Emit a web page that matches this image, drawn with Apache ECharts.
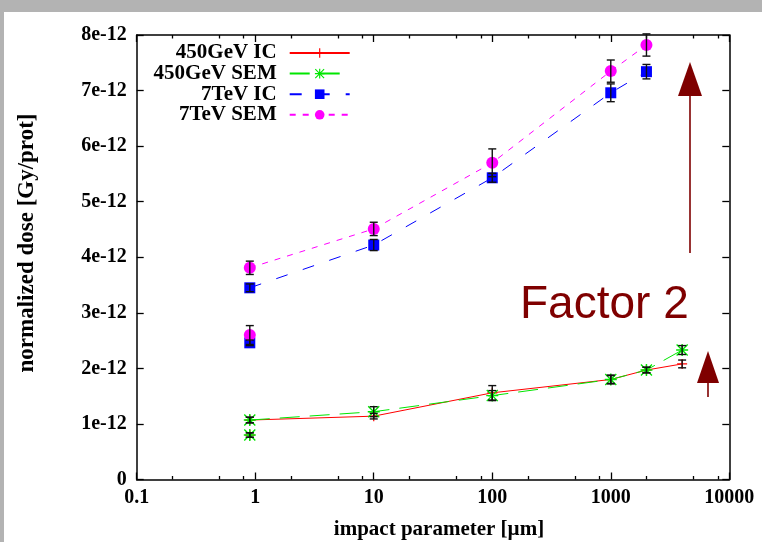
<!DOCTYPE html>
<html><head><meta charset="utf-8">
<script src="https://cdn.jsdelivr.net/npm/echarts@6/dist/echarts.min.js"></script>
<style>html,body{margin:0;padding:0;background:#fff}#c{width:762px;height:542px}</style>
</head><body><div id="c"></div>
<script>
// values in units of 1e-12 Gy/prot
const x450 = [0.9, 0.9, 10, 100, 1000, 2000, 4000];
const ic450 = [0.80, 1.07, 1.14, 1.56, 1.80, 1.97, 2.08];
const ic450Err = [0.04, 0.05, 0.05, 0.13, 0.07, 0.05, 0.07];
const sem450 = [0.80, 1.07, 1.22, 1.51, 1.80, 1.97, 2.33];
const sem450Err = [0.04, 0.05, 0.09, 0.09, 0.08, 0.05, 0.08];
const x7 = [0.9, 0.9, 10, 100, 1000, 2000];
const ic7 = [2.46, 3.45, 4.22, 5.43, 6.96, 7.34];
const ic7Err = [0.05, 0.07, 0.10, 0.08, 0.16, 0.13];
const sem7 = [2.60, 3.81, 4.51, 5.70, 7.35, 7.82];
const sem7Err = [0.17, 0.12, 0.12, 0.25, 0.20, 0.20];
const seriesNames = ['450GeV IC', '450GeV SEM', '7TeV IC', '7TeV SEM'];
const xMajorTicks = [0.1, 1, 10, 100, 1000, 10000];
const xMinorTicks = [0.2, 0.5, 0.8, 2, 5, 8, 20, 50, 80, 200, 500, 800, 2000, 5000, 8000];
const yTicks = [0, 1, 2, 3, 4, 5, 6, 7, 8];
const yUnitLabel = 'e-12';

const FONT = 'Liberation Serif';
const DARKRED = '#7f0000';

// first point at 0.9 is a separate measurement: break the line after it
function lineData(xs, ys) {
  const out = [];
  xs.forEach((x, i) => { out.push([x, ys[i]]); if (i === 0) out.push([x, '-']); });
  return out;
}
function errSeries(xs, ys, es) {
  return {
    type: 'custom', silent: true, z: 10, clip: false,
    data: xs.map((x, i) => [x, ys[i], es[i]]),
    renderItem: function (params, api) {
      const x = api.value(0), y = api.value(1), e = api.value(2);
      const t = api.coord([x, y + e]), b = api.coord([x, y - e]);
      const w = 4, st = { stroke: '#111', lineWidth: 1.4 };
      return { type: 'group', children: [
        { type: 'line', shape: { x1: t[0], y1: t[1], x2: b[0], y2: b[1] }, style: st },
        { type: 'line', shape: { x1: t[0] - w, y1: t[1], x2: t[0] + w, y2: t[1] }, style: st },
        { type: 'line', shape: { x1: b[0] - w, y1: b[1], x2: b[0] + w, y2: b[1] }, style: st }
      ]};
    }
  };
}
const PLUS = 'path://M0,4.4H10V5.6H0Z M4.4,0H5.6V10H4.4Z';
const STAR = 'path://M0,4.4H10V5.6H0Z M4.4,0H5.6V10H4.4Z M0.8,0L10,9.2L9.2,10L0,0.8Z M9.2,0L10,0.8L0.8,10L0,9.2Z';

const labelStyle = { fontFamily: FONT, fontWeight: 'bold', fontSize: 20, color: '#000' };
const axisLine = { show: true, lineStyle: { color: '#000', width: 1.5 } };

const chart = echarts.init(document.getElementById('c'), null, { renderer: 'canvas' });
const option = {
  backgroundColor: '#fff',
  animation: false,
  grid: { left: 136.7, right: 32.7, top: 35, bottom: 62.5, containLabel: false },
  legend: {
    orient: 'vertical', align: 'right', right: 411.3, top: 42.5, padding: 0,
    itemWidth: 60, itemHeight: 12, itemGap: -0.4,
    data: seriesNames,
    textStyle: Object.assign({}, labelStyle, { fontSize: 21, lineHeight: 20, padding: [0, 8, 0, 0] })
  },
  xAxis: [
    { type: 'log', logBase: 10, min: 0.1, max: 10000, position: 'bottom',
      axisLine: axisLine, splitLine: { show: false },
      axisTick: { inside: true, length: 7, customValues: xMajorTicks, lineStyle: { color: '#000', width: 1.3 } },
      axisLabel: Object.assign({ margin: 8, customValues: xMajorTicks, formatter: v => String(v) }, labelStyle) },
    { type: 'log', logBase: 10, min: 0.1, max: 10000, position: 'bottom', gridIndex: 0,
      axisLine: { show: false }, splitLine: { show: false }, axisLabel: { show: false },
      axisTick: { inside: true, length: 3.5, customValues: xMinorTicks, lineStyle: { color: '#000', width: 1.3 } } },
    { type: 'log', logBase: 10, min: 0.1, max: 10000, position: 'top',
      axisLine: axisLine, splitLine: { show: false }, axisLabel: { show: false },
      axisTick: { inside: true, length: 7, customValues: xMajorTicks, lineStyle: { color: '#000', width: 1.3 } } },
    { type: 'log', logBase: 10, min: 0.1, max: 10000, position: 'top',
      axisLine: { show: false }, splitLine: { show: false }, axisLabel: { show: false },
      axisTick: { inside: true, length: 3.5, customValues: xMinorTicks, lineStyle: { color: '#000', width: 1.3 } } }
  ],
  yAxis: [
    { type: 'value', min: 0, max: 8, interval: 1, position: 'left',
      axisLine: axisLine, splitLine: { show: false },
      axisTick: { inside: true, length: 7, lineStyle: { color: '#000', width: 1.3 } },
      axisLabel: Object.assign({ margin: 10, formatter: v => v === 0 ? '0' : v + yUnitLabel }, labelStyle) },
    { type: 'value', min: 0, max: 8, interval: 1, position: 'right',
      axisLine: axisLine, splitLine: { show: false }, axisLabel: { show: false },
      axisTick: { inside: true, length: 7, lineStyle: { color: '#000', width: 1.3 } } }
  ],
  series: [
    { name: seriesNames[0], type: 'line', data: lineData(x450, ic450), connectNulls: false,
      color: '#ff0000', lineStyle: { color: '#ff0000', width: 1 }, symbol: PLUS, symbolSize: 10,
      itemStyle: { color: '#ff0000' }, z: 3 },
    { name: seriesNames[1], type: 'line', data: lineData(x450, sem450), connectNulls: false,
      color: '#00e600', lineStyle: { color: '#00e600', width: 1, type: [20, 10] }, symbol: STAR, symbolSize: 12,
      itemStyle: { color: '#00e600' }, z: 4 },
    { name: seriesNames[2], type: 'line', data: lineData(x7, ic7), connectNulls: false,
      color: '#0000ff', lineStyle: { color: '#0000ff', width: 1, type: [12, 16] }, symbol: 'rect', symbolSize: 11,
      itemStyle: { color: '#0000ff' }, z: 3 },
    { name: seriesNames[3], type: 'line', data: lineData(x7, sem7), connectNulls: false,
      color: '#ff00ff', lineStyle: { color: '#ff00ff', width: 1, type: [6, 7] }, symbol: 'circle', symbolSize: 12,
      itemStyle: { color: '#ff00ff' }, z: 4 },
    errSeries(x450, ic450, ic450Err),
    errSeries(x450, sem450, sem450Err),
    errSeries(x7, ic7, ic7Err),
    errSeries(x7, sem7, sem7Err)
  ],
  graphic: [
    { type: 'rect', shape: { x: 0, y: 0, width: 762, height: 12 }, style: { fill: '#b3b3b3' }, silent: true },
    { type: 'rect', shape: { x: 0, y: 0, width: 4, height: 542 }, style: { fill: '#b3b3b3' }, silent: true },
    { type: 'text', x: 27, y: 243, rotation: Math.PI / 2,
      style: { text: 'normalized dose [Gy/prot]', font: 'bold 23px "Liberation Serif"', fill: '#000', align: 'center', verticalAlign: 'middle' } },
    { type: 'text', x: 439, y: 530,
      style: { text: 'impact parameter [\u00b5m]', font: 'bold 21px "Liberation Serif"', fill: '#000', align: 'center', verticalAlign: 'middle' } },
    { type: 'text', x: 520, y: 305,
      style: { text: 'Factor 2', font: '46px "Liberation Sans"', fill: DARKRED, align: 'left', verticalAlign: 'middle' } },
    { type: 'line', shape: { x1: 690, y1: 253, x2: 690, y2: 94 }, style: { stroke: DARKRED, lineWidth: 1.6 } },
    { type: 'polygon', shape: { points: [[690, 62], [678, 96], [702, 96]] }, style: { fill: DARKRED } },
    { type: 'line', shape: { x1: 708, y1: 397, x2: 708, y2: 381 }, style: { stroke: DARKRED, lineWidth: 1.6 } },
    { type: 'polygon', shape: { points: [[708, 351], [697, 383], [719, 383]] }, style: { fill: DARKRED } }
  ]
};
chart.setOption(option);
</script>
</body></html>
